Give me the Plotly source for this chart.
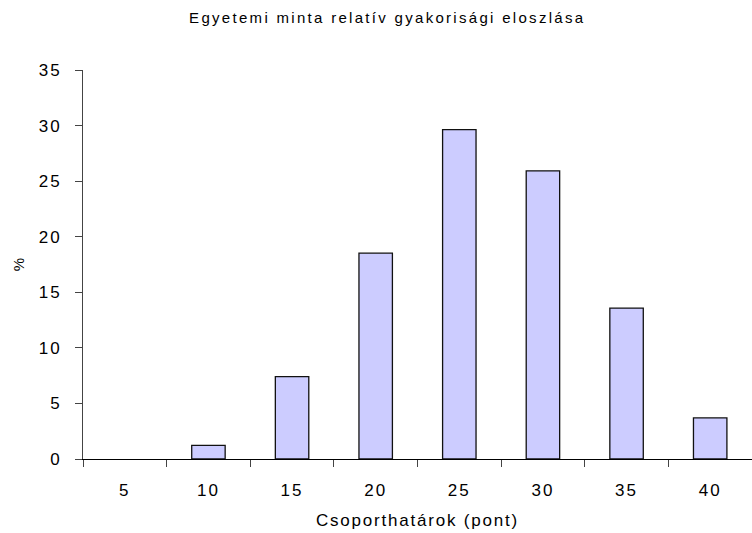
import plotly.graph_objects as go

categories = ["5", "10", "15", "20", "25", "30", "35", "40"]
percent = [0, 1.23, 7.41, 18.52, 29.63, 25.93, 13.58, 3.70]
y_ticks = [0, 5, 10, 15, 20, 25, 30, 35]

font_family = "Liberation Sans, Arial, sans-serif"

# no outline on empty (zero-height) bars
outline_widths = [0 if v == 0 else 1.3 for v in percent]

fig = go.Figure(
    go.Bar(
        x=categories,
        y=percent,
        marker=dict(color="#CCCCFF", line=dict(color="#111111", width=outline_widths)),
        width=0.4,
    )
)

fig.update_layout(
    width=752,
    height=533,
    margin=dict(l=83, r=0, t=70, b=74, autoexpand=False),
    paper_bgcolor="white",
    plot_bgcolor="white",
    showlegend=False,
    font=dict(family=font_family, color="black"),
    title=dict(
        text="Egyetemi minta relatív gyakorisági eloszlása",
        x=0.515,
        xanchor="center",
        y=1 - 18 / 533,
        yanchor="middle",
        font=dict(size=15, family=font_family),
    ),
)

fig.update_xaxes(
    type="category",
    automargin=False,
    showline=True,
    linecolor="black",
    linewidth=1,
    ticks="outside",
    tickson="boundaries",
    ticklen=7,
    tickcolor="#444444",
    tickfont=dict(size=17),
    ticklabelstandoff=16,
    showgrid=False,
    title=dict(text="Csoporthatárok (pont)", font=dict(size=17), standoff=14),
)

fig.update_yaxes(
    range=[0, 35],
    tickvals=y_ticks,
    automargin=False,
    showline=True,
    linecolor="#444444",
    linewidth=1,
    ticks="outside",
    ticklen=7,
    tickcolor="#444444",
    tickfont=dict(size=17),
    ticklabelstandoff=10,
    showgrid=False,
    zeroline=False,
    title=dict(text="%", font=dict(size=15), standoff=14),
)

# page without body margin; widen letter spacing as in the reference rendering
post = """
document.body.style.margin='0';
document.body.style.overflow='hidden';
var gd = document.getElementsByClassName('plotly-graph-div')[0];
function spacing(){
  gd.querySelectorAll('.gtitle').forEach(function(t){t.style.letterSpacing='2.3px';});
  gd.querySelectorAll('.xtitle').forEach(function(t){t.style.letterSpacing='1.8px';});
  gd.querySelectorAll('.xtick text, .ytick text').forEach(function(t){t.style.letterSpacing='2px';});
}
spacing();
gd.on('plotly_afterplot', spacing);
"""

fig.write_html("out.html", post_script=post, config={"displayModeBar": False})
